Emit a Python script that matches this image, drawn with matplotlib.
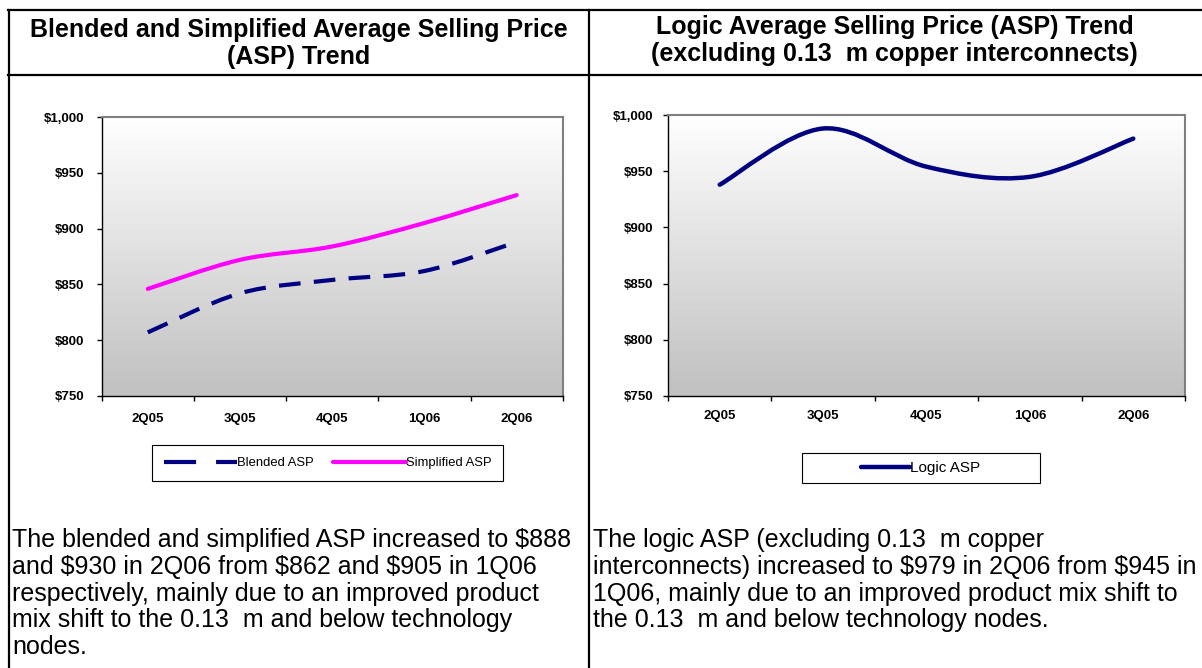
import numpy as np
import matplotlib.pyplot as plt
from matplotlib.path import Path
from matplotlib.patches import PathPatch, Rectangle
from matplotlib.lines import Line2D
from matplotlib.colors import LinearSegmentedColormap

plt.rcParams['font.family'] = ['Liberation Sans', 'DejaVu Sans']
plt.rcParams['text.parse_math'] = False

quarters = ['2Q05', '3Q05', '4Q05', '1Q06', '2Q06']
blended_asp = [807, 842, 854, 862, 888]
simplified_asp = [846, 872, 884, 905, 930]
logic_asp = [938, 988, 954, 945, 979]
y_ticks = [750, 800, 850, 900, 950, 1000]

left_title = ['Blended and Simplified Average Selling Price', '(ASP) Trend']
right_title = ['Logic Average Selling Price (ASP) Trend',
               '(excluding 0.13  m copper interconnects)']
left_text = ['The blended and simplified ASP increased to $888',
             'and $930 in 2Q06 from $862 and $905 in 1Q06',
             'respectively, mainly due to an improved product',
             'mix shift to the 0.13  m and below technology',
             'nodes.']
right_text = ['The logic ASP (excluding 0.13  m copper',
              'interconnects) increased to $979 in 2Q06 from $945 in',
              '1Q06, mainly due to an improved product mix shift to',
              'the 0.13  m and below technology nodes.']

NAVY = '#000080'
PINK = '#ff00ff'
W, H = 1202, 668


def fx(px):
    return px / W


def fy(py):
    return 1 - py / H


def smooth_path(ys):
    # excel style smoothed line: bezier through each point
    xs = np.arange(len(ys), dtype=float)
    pts = np.column_stack([xs, np.asarray(ys, dtype=float)])
    ext = np.vstack([pts[0], pts, pts[-1]])
    verts = [pts[0]]
    codes = [Path.MOVETO]
    for i in range(len(pts) - 1):
        p0, p1, p2, p3 = ext[i], ext[i + 1], ext[i + 2], ext[i + 3]
        verts += [p1 + (p2 - p0) / 6, p2 - (p3 - p1) / 6, p2]
        codes += [Path.CURVE4] * 3
    return Path(verts, codes)


grad = LinearSegmentedColormap.from_list('grad', ['#c0c0c0', '#ffffff'])


def setup_axes(ax, lab_pad_y, lab_pad_x):
    ax.imshow(np.linspace(0, 1, 256).reshape(-1, 1), cmap=grad,
              aspect='auto', extent=(0, 1, 0, 1), transform=ax.transAxes,
              origin='lower', zorder=0)
    ax.set_xlim(-0.5, 4.5)
    ax.set_ylim(750, 1000)
    ax.set_yticks(y_ticks)
    ax.set_yticklabels(['${:,}'.format(v) for v in y_ticks],
                       fontsize=9.5, fontweight='bold')
    ax.set_xticks(np.arange(-0.5, 5, 1))
    ax.set_xticklabels([])
    ax.set_xticks(range(len(quarters)), minor=True)
    ax.set_xticklabels(quarters, minor=True, fontsize=9.5, fontweight='bold')
    ax.tick_params(axis='x', which='minor', length=0, pad=lab_pad_x + 3)
    ax.tick_params(axis='x', which='major', length=3.5, width=1)
    ax.tick_params(axis='y', length=3.5, width=1, pad=lab_pad_y)
    for s in ['top', 'right']:
        ax.spines[s].set_color('#808080')
        ax.spines[s].set_linewidth(1.5)
    for s in ['left', 'bottom']:
        ax.spines[s].set_color('black')
        ax.spines[s].set_linewidth(1)


fig = plt.figure(figsize=(12.02, 6.68), dpi=100)

# left chart
ax1 = fig.add_axes([fx(101.7), fy(396), fx(562.7 - 101.7), (396 - 117) / H])
setup_axes(ax1, 9, 9)
ax1.add_patch(PathPatch(smooth_path(blended_asp), fill=False, edgecolor=NAVY,
                        lw=3, linestyle=(0, (5.2, 3.2)), capstyle='butt', zorder=3))
ax1.add_patch(PathPatch(smooth_path(simplified_asp), fill=False, edgecolor=PINK,
                        lw=3, capstyle='round', zorder=3))

# right chart
ax2 = fig.add_axes([fx(668), fy(396), fx(1185 - 668), (396 - 115) / H])
setup_axes(ax2, 7, 7)
ax2.add_patch(PathPatch(smooth_path(logic_asp), fill=False, edgecolor=NAVY,
                        lw=3.2, capstyle='round', zorder=3))

# legends
h_blend = Line2D([], [], color=NAVY, lw=3, dashes=(7.7, 4.8), dash_capstyle='butt')
h_simp = Line2D([], [], color=PINK, lw=3, solid_capstyle='round')
fig.patches.append(Rectangle((fx(152), fy(481)), fx(503 - 152), (481 - 445) / H,
                             transform=fig.transFigure, fill=False,
                             edgecolor='black', lw=0.8))
fig.legend([h_blend, h_simp], ['Blended ASP', 'Simplified ASP'], loc='center',
           bbox_to_anchor=(fx(327.5), fy(463)), ncol=2, frameon=False,
           fontsize=9.4, handlelength=5.6, handletextpad=0, columnspacing=1.5)

h_logic = Line2D([], [], color=NAVY, lw=3.2, solid_capstyle='round')
fig.patches.append(Rectangle((fx(802), fy(483)), fx(1040 - 802), (483 - 453) / H,
                             transform=fig.transFigure, fill=False,
                             edgecolor='black', lw=0.8))
fig.legend([h_logic], ['Logic ASP'], loc='center',
           bbox_to_anchor=(fx(921), fy(468)), frameon=False,
           fontsize=11, handlelength=3.2, handletextpad=0)

# table grid
for (x0, y0, x1, y1) in [(8, 9.5, 1202, 9.5), (8, 75, 1202, 75),
                         (8.7, 9.5, 8.7, 668), (589, 9.5, 589, 668)]:
    fig.add_artist(Line2D([fx(x0), fx(x1)], [fy(y0), fy(y1)],
                          transform=fig.transFigure, color='black', lw=1.6))

# titles
for i, line in enumerate(left_title):
    fig.text(fx(298.5), fy(37 + 27 * i), line, ha='center', va='baseline',
             fontsize=18, fontweight='bold')
for i, line in enumerate(right_title):
    fig.text(fx(894.5), fy(34 + 27 * i), line, ha='center', va='baseline',
             fontsize=18, fontweight='bold')

# commentary
for i, line in enumerate(left_text):
    fig.text(fx(12), fy(540 + 26.8 * i), line, ha='left', va='center', fontsize=18)
for i, line in enumerate(right_text):
    fig.text(fx(593), fy(540 + 26.8 * i), line, ha='left', va='center', fontsize=18)

fig.savefig('out.png', dpi=100)
